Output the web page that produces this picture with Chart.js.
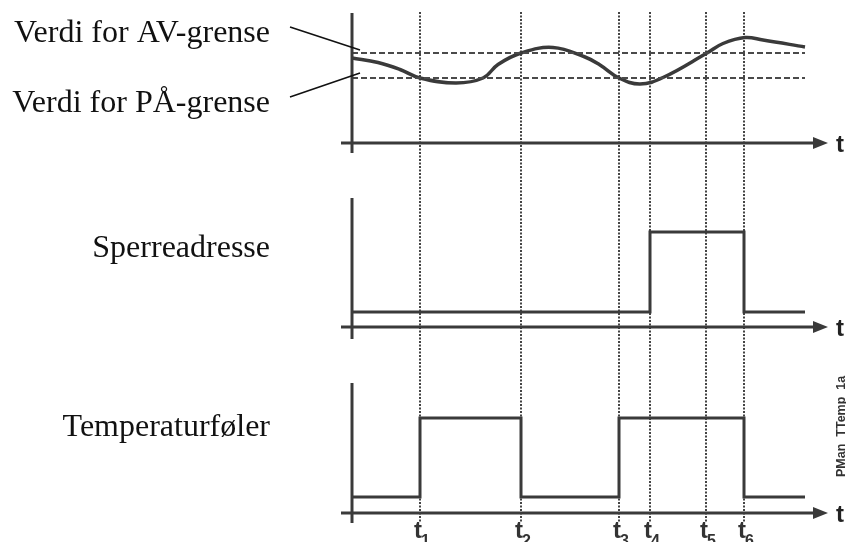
<!DOCTYPE html>
<html>
<head>
<meta charset="utf-8">
<script src="https://cdn.jsdelivr.net/npm/chart.js@4/dist/chart.umd.min.js"></script>
<style>
html,body{margin:0;padding:0;background:#fff;overflow:hidden}
#wrap{position:relative;width:846px;height:542px}
</style>
</head>
<body>
<div id="wrap"><canvas id="c" width="846" height="542"></canvas></div>
<script>
// ---------- data ----------
const eventTimes  = [68, 169, 267, 298, 354, 392];
const eventLabels = ['1', '2', '3', '4', '5', '6'];
const endTime = 453;

const tempTimes  = [0, 26, 48, 68, 104, 131, 146, 169, 201, 233, 248, 267, 288, 311, 355, 371, 393, 411, 453];
const tempValues = [17, 16.1, 14.7, 13, 12.0, 13, 15.7, 18, 19.1, 17.2, 15.6, 13, 11.8, 13.1, 18, 19.9, 21.1, 20.6, 19.2];

const avLimit = 18;   // Verdi for AV-grense
const paLimit = 13;   // Verdi for PÅ-grense

const lockTimes  = [0, 298, 392, endTime];
const lockValues = [0, 1, 0, 0];

const sensorTimes  = [0, 68, 169, 267, 392, endTime];
const sensorValues = [0, 1, 0, 1, 0, 0];

const limitLabels = ['Verdi for AV-grense', 'Verdi for PÅ-grense'];
const rowLabels   = ['Sperreadresse', 'Temperaturføler'];
const axisLetter  = 't';
const codeLabel   = 'PMan_TTemp_1a';

// ---------- layout ----------
const W = 846, H = 542;
const INK = '#3a3a3a';
const panels = [
  {scale: 'yT', axisY: 143, top: 13,  bottom: 153, v0: 0, p0: 143, v1: avLimit, p1: 53},
  {scale: 'yS', axisY: 327, top: 198, bottom: 339, v0: 0, p0: 312, v1: 1, p1: 232},
  {scale: 'yF', axisY: 513, top: 383, bottom: 523, v0: 0, p0: 497, v1: 1, p1: 418}
];
function axisRange(p) {
  const u = (p.v1 - p.v0) / (p.p0 - p.p1);
  return {min: p.v0 - (H - p.p0) * u, max: p.v1 + p.p1 * u};
}
const toXY = (xs, ys) => xs.map((x, i) => ({x: x, y: ys[i]}));

const scales = {
  x: {type: 'linear', min: -12, max: 478, display: false}
};
panels.forEach(p => {
  const r = axisRange(p);
  scales[p.scale] = {type: 'linear', min: r.min, max: r.max, display: false};
});

const deco = {
  id: 'deco',
  beforeDatasetsDraw(chart) {
    const ctx = chart.ctx, xs = chart.scales.x;
    ctx.save();
    ctx.strokeStyle = '#444';
    ctx.lineWidth = 2;
    ctx.setLineDash([2, 1.5]);
    eventTimes.forEach(t => {
      const px = Math.round(xs.getPixelForValue(t));
      ctx.beginPath();
      ctx.moveTo(px, 12);
      ctx.lineTo(px, 522);
      ctx.stroke();
    });
    ctx.restore();
  },
  afterDatasetsDraw(chart) {
    const ctx = chart.ctx, xs = chart.scales.x;
    const x0 = xs.getPixelForValue(0);
    ctx.save();
    ctx.strokeStyle = INK;
    ctx.fillStyle = INK;
    ctx.lineWidth = 3;
    panels.forEach(p => {
      // vertical axis
      ctx.beginPath();
      ctx.moveTo(x0, p.top);
      ctx.lineTo(x0, p.bottom);
      ctx.stroke();
      // horizontal axis
      ctx.beginPath();
      ctx.moveTo(341, p.axisY);
      ctx.lineTo(815, p.axisY);
      ctx.stroke();
      // arrow head
      ctx.beginPath();
      ctx.moveTo(813, p.axisY - 6);
      ctx.lineTo(828, p.axisY);
      ctx.lineTo(813, p.axisY + 6);
      ctx.closePath();
      ctx.fill();
      // axis letter
      ctx.fillStyle = '#222';
      ctx.font = 'bold 24px "Liberation Sans", Arial, sans-serif';
      ctx.textAlign = 'left';
      ctx.textBaseline = 'alphabetic';
      ctx.fillText(axisLetter, 836, p.axisY + 9);
      ctx.fillStyle = INK;
    });

    // pointer lines
    ctx.strokeStyle = '#111';
    ctx.lineWidth = 1.6;
    ctx.beginPath();
    ctx.moveTo(290, 27); ctx.lineTo(360, 50);
    ctx.moveTo(290, 97); ctx.lineTo(360, 73);
    ctx.stroke();

    // left labels
    ctx.fillStyle = '#111';
    ctx.font = '32px "Liberation Serif", "Times New Roman", serif';
    ctx.textAlign = 'right';
    ctx.fillText(limitLabels[0], 270, 42);
    ctx.fillText(limitLabels[1], 270, 112);
    ctx.fillText(rowLabels[0], 270, 257);
    ctx.fillText(rowLabels[1], 270, 436);

    // event labels
    ctx.fillStyle = '#333';
    eventTimes.forEach((t, i) => {
      const px = xs.getPixelForValue(t);
      ctx.textAlign = 'right';
      ctx.font = 'bold 24px "Liberation Sans", Arial, sans-serif';
      ctx.fillText('t', px + 2, 538);
      ctx.textAlign = 'left';
      ctx.font = 'bold 16px "Liberation Sans", Arial, sans-serif';
      ctx.fillText(eventLabels[i], px + 1, 546);
    });

    // code label
    ctx.save();
    ctx.translate(845, 477);
    ctx.rotate(-Math.PI / 2);
    ctx.fillStyle = '#333';
    ctx.textAlign = 'left';
    ctx.font = 'bold 12.5px "Liberation Sans", Arial, sans-serif';
    ctx.fillText(codeLabel, 0, 0);
    ctx.restore();

    ctx.restore();
  }
};

new Chart(document.getElementById('c'), {
  type: 'line',
  data: {
    datasets: [
      {data: toXY([0, endTime], [avLimit, avLimit]), yAxisID: 'yT', borderColor: '#4a4a4a', borderWidth: 2, borderDash: [6, 3], pointRadius: 0, tension: 0},
      {data: toXY([0, endTime], [paLimit, paLimit]), yAxisID: 'yT', borderColor: '#4a4a4a', borderWidth: 2, borderDash: [6, 3], pointRadius: 0, tension: 0},
      {data: toXY(tempTimes, tempValues), yAxisID: 'yT', borderColor: INK, borderWidth: 3.5, pointRadius: 0, tension: 0.4},
      {data: toXY(lockTimes, lockValues), yAxisID: 'yS', borderColor: INK, borderWidth: 3, pointRadius: 0, stepped: true},
      {data: toXY(sensorTimes, sensorValues), yAxisID: 'yF', borderColor: INK, borderWidth: 3, pointRadius: 0, stepped: true}
    ]
  },
  options: {
    responsive: false,
    animation: false,
    devicePixelRatio: 1,
    layout: {padding: {left: 340, right: 16, top: 0, bottom: 0}},
    plugins: {legend: {display: false}, tooltip: {enabled: false}},
    scales: scales,
    elements: {line: {borderCapStyle: 'butt', borderJoinStyle: 'miter'}}
  },
  plugins: [deco]
});
</script>
</body>
</html>
